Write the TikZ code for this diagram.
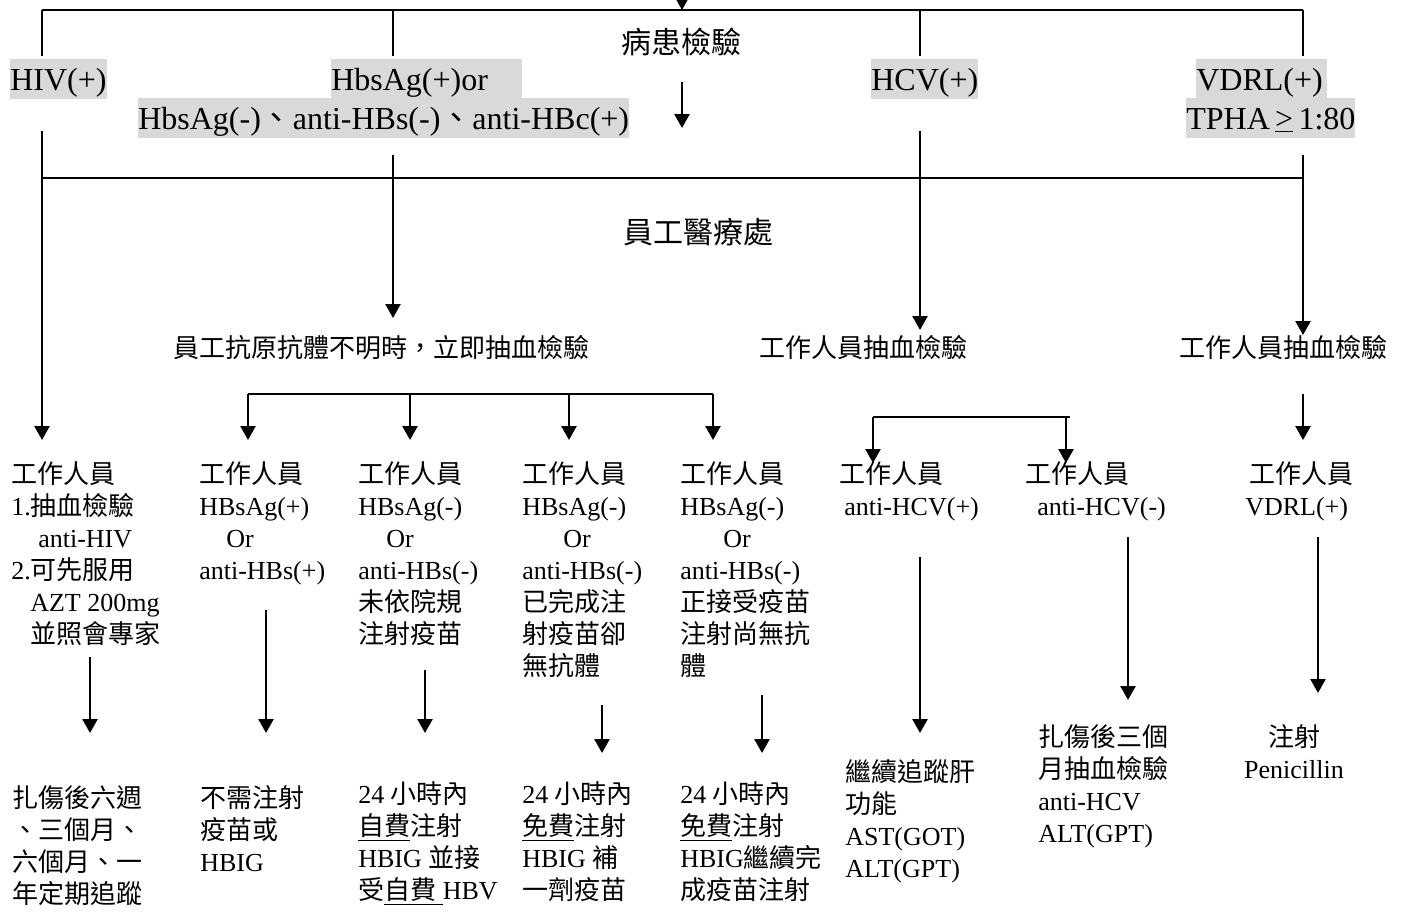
\documentclass[tikz,border=0pt]{standalone}
\usepackage{fontspec}
\setmainfont{Liberation Serif}
\newfontfamily\zhfont{Noto Sans CJK TC}
\usetikzlibrary{arrows.meta}
\definecolor{MarkClr}{RGB}{217,217,217}
\newcommand{\zh}[1]{{\zhfont #1}}
\newcommand{\fl}{\rule{0pt}{12pt}}

\begin{document}
\begin{tikzpicture}[x=0.5pt,y=-0.5pt,line width=1.3pt,
  >={Triangle[length=7pt,width=7.5pt]},
  title/.style={inner sep=0pt,font=\fontsize{15pt}{18pt}\selectfont},
  hilite/.style={fill=MarkClr,inner sep=0pt,text height=15.5pt,text depth=4.3pt,
    anchor=base west,font=\fontsize{16pt}{19pt}\selectfont},
  txt/.style={inner sep=0pt,anchor=north west,align=left,
    font=\fontsize{13pt}{16pt}\selectfont}]
\useasboundingbox (0,0) rectangle (1404,912);

% 病患檢驗結果
\node[title] (pat) at (681,42) {\zh{病患檢驗}};
\node[hilite] (hiv) at (9,90) {HIV(+)};
\node[hilite] (hbvA) at (330,90) {HbsAg(+)or\kern17pt};
\node[hilite] (hbvB) at (137,129) {HbsAg(-)\zh{、}anti-HBs(-)\zh{、}anti-HBc(+)};
\node[hilite] (hcv) at (870,90) {HCV(+)};
\node[hilite] (vdrlA) at (1195,90) {VDRL(+)\kern2pt};
\node[hilite] (vdrlB) at (1185,129) {TPHA\,\underline{>}\,1:80};

% 員工醫療處
\node[title] (emp) at (698,232) {\zh{員工醫療處}};
\node[txt] (drawA) at (172,332) {\fl\zh{員工抗原抗體不明時，立即抽血檢驗}};
\node[txt] (drawB) at (758,332) {\fl\zh{工作人員抽血檢驗}};
\node[txt] (drawC) at (1178,332) {\fl\zh{工作人員抽血檢驗}};

% 工作人員狀況
\node[txt] (st1) at (10,458) {\fl\zh{工作人員}\\1.\zh{抽血檢驗}\\\hspace*{13.5pt}anti-HIV\\
  2.\zh{可先服用}\\\hspace*{9.5pt}AZT 200mg\\\hspace*{9.5pt}\zh{並照會專家}};
\node[txt] (st2) at (198,458) {\fl\zh{工作人員}\\HBsAg(+)\\\hspace*{13.5pt}Or\\anti-HBs(+)};
\node[txt] (st3) at (357,458) {\fl\zh{工作人員}\\HBsAg(-)\\\hspace*{14pt}Or\\anti-HBs(-)\\
  \zh{未依院規}\\\zh{注射疫苗}};
\node[txt] (st4) at (521,458) {\fl\zh{工作人員}\\HBsAg(-)\\\hspace*{20.5pt}Or\\anti-HBs(-)\\
  \zh{已完成注}\\\zh{射疫苗卻}\\\zh{無抗體}};
\node[txt] (st5) at (679,458) {\fl\zh{工作人員}\\HBsAg(-)\\\hspace*{21.5pt}Or\\anti-HBs(-)\\
  \zh{正接受疫苗}\\\zh{注射尚無抗}\\\zh{體}};
\node[txt] (st6) at (838,458) {\fl\zh{工作人員}\\\hspace*{2.5pt}anti-HCV(+)};
\node[txt] (st7) at (1024,458) {\fl\zh{工作人員}\\\hspace*{6pt}anti-HCV(-)};
\node[txt] (st8) at (1244,458) {\fl\hspace*{2pt}\zh{工作人員}\\VDRL(+)};

% 處置與追蹤
\node[txt] (fu1) at (11,782) {\fl\zh{扎傷後六週}\\\zh{、三個月、}\\\zh{六個月、一}\\\zh{年定期追蹤}};
\node[txt] (fu2) at (199,782) {\fl\zh{不需注射}\\\zh{疫苗或}\\HBIG};
\node[txt] (fu3) at (357,778) {\fl 24 \zh{小時內}\\\underline{\zh{自費}}\zh{注射}\\HBIG \zh{並接}\\
  \zh{受}\underline{\zh{自費}\ }HBV};
\node[txt] (fu4) at (521,778) {\fl 24 \zh{小時內}\\\underline{\zh{免費}}\zh{注射}\\HBIG \zh{補}\\\zh{一劑疫苗}};
\node[txt] (fu5) at (679,778) {\fl 24 \zh{小時內}\\\underline{\zh{免費}}\zh{注射}\\HBIG\zh{繼續完}\\\zh{成疫苗注射}};
\node[txt] (fu6) at (844,756) {\fl\zh{繼續追蹤肝}\\\zh{功能}\\AST(GOT)\\ALT(GPT)};
\node[txt] (fu7) at (1037,721) {\fl\zh{扎傷後三個}\\\zh{月抽血檢驗}\\anti-HCV\\ALT(GPT)};
\node[txt,anchor=north,align=center] (fu8) at (1294,721) {\fl\zh{注射}\\Penicillin};

% 上方分支線
\coordinate (inc) at (682,-20);
\coordinate (tL) at (42,10);
\coordinate (tB) at (393,10);
\coordinate (tC) at (920,10);
\coordinate (tR) at (1303,10);
\draw[->] (inc) -- (inc |- tL);
\draw (tL) -- (tR);
\draw (tL) -- ([yshift=1pt]tL |- hiv.north);
\draw (tB) -- ([yshift=1pt]tB |- hbvA.north);
\draw (tC) -- ([yshift=1pt]tC |- hcv.north);
\draw (tR) -- ([yshift=1pt]tR |- vdrlA.north);
\coordinate (patS) at (682,82);
\coordinate (patE) at (682,128);
\draw[->] (patS) -- (patE);

% 員工醫療處分支線
\coordinate (mL) at (42,178);
\coordinate (mB) at (393,178);
\coordinate (mC) at (920,178);
\coordinate (mR) at (1303,178);
\draw ([yshift=4pt]mL |- hbvB.south) -- (mL);
\draw ([yshift=-8pt]mB |- hbvB.south) -- (mB);
\draw ([yshift=4pt]mC |- hbvB.south) -- (mC);
\draw ([yshift=-8pt]mR |- vdrlB.south) -- (mR);
\draw (mL) -- (mR);
\coordinate (hivE) at (42,440);
\coordinate (hbvE) at (393,318);
\coordinate (hcvE) at (920,330);
\coordinate (vdrlE) at (1303,335);
\draw[->] (mL) -- (hivE);
\draw[->] (mB) -- (hbvE);
\draw[->] (mC) -- (hcvE);
\draw[->] (mR) -- (vdrlE);

% 抽血後分組
\coordinate (lvA) at (0,440);
\coordinate (lvB) at (0,463);
\coordinate (b1) at (248,394);
\coordinate (b2) at (410,394);
\coordinate (b3) at (569,394);
\coordinate (b4) at (713,394);
\draw (b1) -- (b4);
\draw[->] (b1) -- (b1 |- lvA);
\draw[->] (b2) -- (b2 |- lvA);
\draw[->] (b3) -- (b3 |- lvA);
\draw[->] (b4) -- (b4 |- lvA);
\coordinate (c1) at (873,417);
\coordinate (c2) at (1066,417);
\coordinate (c3) at (1070,417);
\draw (c1) -- (c3);
\draw[->] (c1) -- (c1 |- lvB);
\draw[->] (c2) -- (c2 |- lvB);
\coordinate (v1) at (1303,394);
\draw[->] (v1) -- (v1 |- lvA);

% 往處置的箭頭
\coordinate (lvC) at (0,733);
\coordinate (lvD) at (0,753);
\coordinate (lvE) at (0,700);
\coordinate (lvF) at (0,693);
\coordinate (d1) at (90,657);
\coordinate (d2) at (266,610);
\coordinate (d3) at (425,670);
\coordinate (d4) at (602,705);
\coordinate (d5) at (762,695);
\coordinate (d6) at (920,557);
\coordinate (d7) at (1128,537);
\coordinate (d8) at (1318,537);
\draw[->] (d1) -- (d1 |- lvC);
\draw[->] (d2) -- (d2 |- lvC);
\draw[->] (d3) -- (d3 |- lvC);
\draw[->] (d4) -- (d4 |- lvD);
\draw[->] (d5) -- (d5 |- lvD);
\draw[->] (d6) -- (d6 |- lvC);
\draw[->] (d7) -- (d7 |- lvE);
\draw[->] (d8) -- (d8 |- lvF);

\end{tikzpicture}
\end{document}
